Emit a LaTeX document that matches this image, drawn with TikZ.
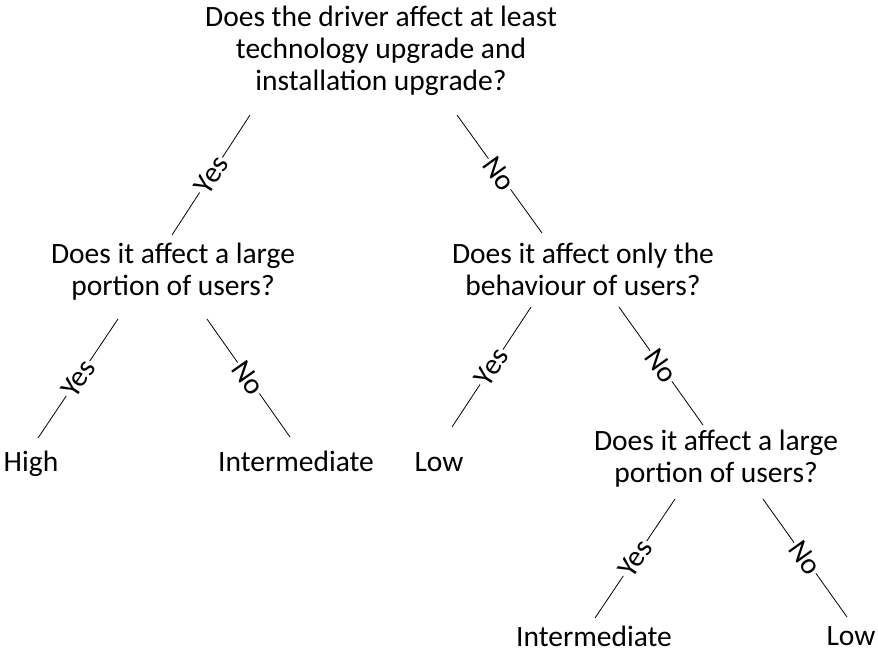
\documentclass[tikz,border=0pt]{standalone}
\usepackage{fontspec}
\setmainfont{Carlito}
\begin{document}
\begin{tikzpicture}[x=1pt,y=-1pt,
  question/.style={align=center,inner sep=0pt,anchor=base,
    font=\fontsize{29.5}{32}\selectfont},
  leaf/.style={inner sep=0pt,anchor=base,font=\fontsize{29.5}{32}\selectfont},
  branch/.style={line width=0.8pt},
  answer/.style={midway,sloped,fill=white,inner sep=1.5pt,
    font=\fontsize{29.5}{32}\selectfont}]
\useasboundingbox (0,0) rectangle (878,654);

% questions (anchored at the baseline of their last line)
\node[question] (q1) at (381,90) {Does the driver affect at least\\technology upgrade and\\installation upgrade?};
\node[question] (q2) at (173,295) {Does it affect a large\\portion of users?};
\node[question] (q3) at (583,295) {Does it affect only the\\behaviour of users?};
\node[question] (q4) at (716,482) {Does it affect a large\\portion of users?};

% outcomes
\node[leaf] (l1) at (31,471) {High};
\node[leaf] (l2) at (296,471) {Intermediate};
\node[leaf] (l3) at (439,471) {Low};
\node[leaf] (l4) at (594,646) {Intermediate};
\node[leaf] (l5) at (851,645) {Low};

% branch ends
\coordinate (q1y) at (250,115);  \coordinate (q2t) at (172,235);
\coordinate (q1n) at (457,115);  \coordinate (q3t) at (542,233);
\coordinate (q2y) at (118,319);  \coordinate (l1t) at (38,438);
\coordinate (q2n) at (207,319);  \coordinate (l2t) at (290,437);
\coordinate (q3y) at (531,307);  \coordinate (l3t) at (452,427);
\coordinate (q3n) at (619,307);  \coordinate (q4t) at (703,425);
\coordinate (q4y) at (675,499);  \coordinate (l4t) at (595,618);
\coordinate (q4n) at (763,499);  \coordinate (l5t) at (847,617);

% branches with their answers
\draw[branch] (q1y) -- node[answer] {Yes} (q2t);
\draw[branch] (q1n) -- node[answer] {No} (q3t);
\draw[branch] (q2y) -- node[answer] {Yes} (l1t);
\draw[branch] (q2n) -- node[answer] {No} (l2t);
\draw[branch] (q3y) -- node[answer] {Yes} (l3t);
\draw[branch] (q3n) -- node[answer] {No} (q4t);
\draw[branch] (q4y) -- node[answer] {Yes} (l4t);
\draw[branch] (q4n) -- node[answer] {No} (l5t);
\end{tikzpicture}
\end{document}
